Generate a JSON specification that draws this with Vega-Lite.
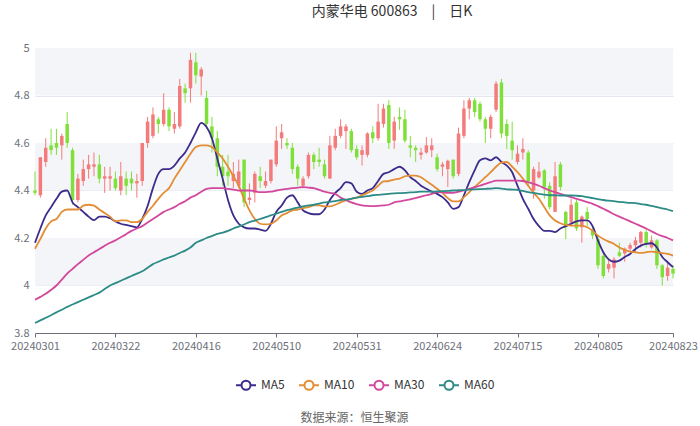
{
  "$schema": "https://vega.github.io/schema/vega-lite/v6.json",
  "width": 638,
  "height": 285,
  "autosize": {"type": "none"},
  "padding": {"left": 35, "top": 48, "right": 27, "bottom": 93},
  "background": "#ffffff",
  "title": {"text": "内蒙华电 600863　|　日K", "anchor": "middle", "dx": 38, "offset": 12, "baseline": "alphabetic", "fontSize": 14, "fontWeight": "normal", "color": "#333333", "font": "Noto Sans CJK SC"},
  "datasets": {
    "bands": [{"y0": 4.8, "y1": 5.0}, {"y0": 4.4, "y1": 4.6}, {"y0": 4.0, "y1": 4.2}],
    "k": [
      {"d":"20240301","o":4.40,"h":4.48,"l":4.38,"c":4.39,"MA5":4.18,"MA10":4.155,"MA30":3.94,"MA60":3.842},
      {"d":"20240304","o":4.38,"h":4.54,"l":4.37,"c":4.54,"MA5":4.24,"MA10":4.196,"MA30":3.952,"MA60":3.853},
      {"d":"20240305","o":4.52,"h":4.62,"l":4.50,"c":4.58,"MA5":4.295,"MA10":4.24,"MA30":3.965,"MA60":3.864},
      {"d":"20240306","o":4.59,"h":4.66,"l":4.55,"c":4.57,"MA5":4.33,"MA10":4.27,"MA30":3.982,"MA60":3.875},
      {"d":"20240307","o":4.60,"h":4.66,"l":4.55,"c":4.58,"MA5":4.365,"MA10":4.28,"MA30":4.00,"MA60":3.887},
      {"d":"20240308","o":4.59,"h":4.64,"l":4.53,"c":4.63,"MA5":4.395,"MA10":4.31,"MA30":4.025,"MA60":3.898},
      {"d":"20240311","o":4.68,"h":4.73,"l":4.58,"c":4.60,"MA5":4.40,"MA10":4.32,"MA30":4.05,"MA60":3.91},
      {"d":"20240312","o":4.57,"h":4.58,"l":4.34,"c":4.36,"MA5":4.35,"MA10":4.32,"MA30":4.07,"MA60":3.92},
      {"d":"20240313","o":4.36,"h":4.47,"l":4.35,"c":4.45,"MA5":4.33,"MA10":4.32,"MA30":4.09,"MA60":3.93},
      {"d":"20240314","o":4.44,"h":4.53,"l":4.42,"c":4.49,"MA5":4.31,"MA10":4.336,"MA30":4.108,"MA60":3.94},
      {"d":"20240315","o":4.49,"h":4.55,"l":4.45,"c":4.51,"MA5":4.29,"MA10":4.34,"MA30":4.126,"MA60":3.95},
      {"d":"20240318","o":4.50,"h":4.56,"l":4.46,"c":4.51,"MA5":4.275,"MA10":4.336,"MA30":4.14,"MA60":3.96},
      {"d":"20240319","o":4.51,"h":4.55,"l":4.43,"c":4.45,"MA5":4.29,"MA10":4.32,"MA30":4.154,"MA60":3.97},
      {"d":"20240320","o":4.45,"h":4.50,"l":4.39,"c":4.46,"MA5":4.29,"MA10":4.305,"MA30":4.167,"MA60":3.985},
      {"d":"20240321","o":4.45,"h":4.50,"l":4.40,"c":4.46,"MA5":4.283,"MA10":4.29,"MA30":4.18,"MA60":4.0},
      {"d":"20240322","o":4.45,"h":4.48,"l":4.40,"c":4.41,"MA5":4.27,"MA10":4.27,"MA30":4.19,"MA60":4.01},
      {"d":"20240325","o":4.40,"h":4.52,"l":4.38,"c":4.46,"MA5":4.26,"MA10":4.274,"MA30":4.203,"MA60":4.02},
      {"d":"20240326","o":4.45,"h":4.48,"l":4.38,"c":4.42,"MA5":4.255,"MA10":4.274,"MA30":4.216,"MA60":4.03},
      {"d":"20240327","o":4.45,"h":4.48,"l":4.40,"c":4.43,"MA5":4.25,"MA10":4.267,"MA30":4.23,"MA60":4.04},
      {"d":"20240328","o":4.43,"h":4.47,"l":4.37,"c":4.44,"MA5":4.245,"MA10":4.267,"MA30":4.24,"MA60":4.05},
      {"d":"20240329","o":4.44,"h":4.60,"l":4.42,"c":4.60,"MA5":4.28,"MA10":4.28,"MA30":4.25,"MA60":4.06},
      {"d":"20240401","o":4.60,"h":4.71,"l":4.58,"c":4.69,"MA5":4.335,"MA10":4.31,"MA30":4.265,"MA60":4.075},
      {"d":"20240402","o":4.63,"h":4.75,"l":4.62,"c":4.72,"MA5":4.41,"MA10":4.336,"MA30":4.28,"MA60":4.09},
      {"d":"20240403","o":4.70,"h":4.71,"l":4.64,"c":4.68,"MA5":4.47,"MA10":4.365,"MA30":4.295,"MA60":4.10},
      {"d":"20240408","o":4.68,"h":4.81,"l":4.67,"c":4.74,"MA5":4.49,"MA10":4.39,"MA30":4.31,"MA60":4.11},
      {"d":"20240409","o":4.74,"h":4.75,"l":4.65,"c":4.67,"MA5":4.49,"MA10":4.41,"MA30":4.32,"MA60":4.118},
      {"d":"20240410","o":4.66,"h":4.73,"l":4.64,"c":4.68,"MA5":4.505,"MA10":4.45,"MA30":4.33,"MA60":4.126},
      {"d":"20240411","o":4.67,"h":4.87,"l":4.66,"c":4.84,"MA5":4.535,"MA10":4.485,"MA30":4.344,"MA60":4.137},
      {"d":"20240412","o":4.83,"h":4.85,"l":4.77,"c":4.81,"MA5":4.56,"MA10":4.52,"MA30":4.355,"MA60":4.147},
      {"d":"20240415","o":4.83,"h":4.98,"l":4.77,"c":4.95,"MA5":4.60,"MA10":4.555,"MA30":4.37,"MA60":4.16},
      {"d":"20240416","o":4.94,"h":4.98,"l":4.85,"c":4.885,"MA5":4.645,"MA10":4.583,"MA30":4.38,"MA60":4.18},
      {"d":"20240417","o":4.88,"h":4.92,"l":4.80,"c":4.91,"MA5":4.685,"MA10":4.59,"MA30":4.395,"MA60":4.19},
      {"d":"20240418","o":4.79,"h":4.82,"l":4.66,"c":4.68,"MA5":4.667,"MA10":4.59,"MA30":4.407,"MA60":4.20},
      {"d":"20240419","o":4.67,"h":4.71,"l":4.56,"c":4.62,"MA5":4.62,"MA10":4.583,"MA30":4.41,"MA60":4.208},
      {"d":"20240422","o":4.62,"h":4.65,"l":4.46,"c":4.50,"MA5":4.535,"MA10":4.56,"MA30":4.41,"MA60":4.217},
      {"d":"20240423","o":4.50,"h":4.55,"l":4.42,"c":4.46,"MA5":4.45,"MA10":4.535,"MA30":4.41,"MA60":4.223},
      {"d":"20240424","o":4.48,"h":4.55,"l":4.42,"c":4.46,"MA5":4.36,"MA10":4.50,"MA30":4.407,"MA60":4.23},
      {"d":"20240425","o":4.44,"h":4.52,"l":4.41,"c":4.47,"MA5":4.295,"MA10":4.46,"MA30":4.404,"MA60":4.24},
      {"d":"20240426","o":4.42,"h":4.53,"l":4.41,"c":4.48,"MA5":4.26,"MA10":4.42,"MA30":4.40,"MA60":4.248},
      {"d":"20240429","o":4.53,"h":4.53,"l":4.33,"c":4.35,"MA5":4.245,"MA10":4.365,"MA30":4.40,"MA60":4.257},
      {"d":"20240430","o":4.36,"h":4.43,"l":4.34,"c":4.37,"MA5":4.24,"MA10":4.316,"MA30":4.40,"MA60":4.267},
      {"d":"20240506","o":4.39,"h":4.48,"l":4.35,"c":4.47,"MA5":4.24,"MA10":4.28,"MA30":4.397,"MA60":4.273},
      {"d":"20240507","o":4.46,"h":4.50,"l":4.41,"c":4.44,"MA5":4.235,"MA10":4.26,"MA30":4.393,"MA60":4.28},
      {"d":"20240508","o":4.42,"h":4.48,"l":4.41,"c":4.44,"MA5":4.23,"MA10":4.257,"MA30":4.393,"MA60":4.288},
      {"d":"20240509","o":4.44,"h":4.53,"l":4.43,"c":4.53,"MA5":4.26,"MA10":4.26,"MA30":4.395,"MA60":4.295},
      {"d":"20240510","o":4.51,"h":4.67,"l":4.50,"c":4.61,"MA5":4.31,"MA10":4.274,"MA30":4.40,"MA60":4.303},
      {"d":"20240513","o":4.62,"h":4.68,"l":4.575,"c":4.645,"MA5":4.337,"MA10":4.295,"MA30":4.404,"MA60":4.31},
      {"d":"20240514","o":4.60,"h":4.62,"l":4.575,"c":4.59,"MA5":4.37,"MA10":4.305,"MA30":4.407,"MA60":4.317},
      {"d":"20240515","o":4.58,"h":4.60,"l":4.47,"c":4.49,"MA5":4.38,"MA10":4.316,"MA30":4.41,"MA60":4.323},
      {"d":"20240516","o":4.50,"h":4.51,"l":4.42,"c":4.45,"MA5":4.35,"MA10":4.32,"MA30":4.412,"MA60":4.328},
      {"d":"20240517","o":4.42,"h":4.46,"l":4.41,"c":4.45,"MA5":4.316,"MA10":4.326,"MA30":4.414,"MA60":4.333},
      {"d":"20240520","o":4.46,"h":4.56,"l":4.45,"c":4.55,"MA5":4.305,"MA10":4.33,"MA30":4.412,"MA60":4.337},
      {"d":"20240521","o":4.55,"h":4.56,"l":4.49,"c":4.52,"MA5":4.30,"MA10":4.337,"MA30":4.41,"MA60":4.34},
      {"d":"20240522","o":4.53,"h":4.58,"l":4.50,"c":4.52,"MA5":4.30,"MA10":4.337,"MA30":4.403,"MA60":4.345},
      {"d":"20240523","o":4.51,"h":4.53,"l":4.45,"c":4.46,"MA5":4.32,"MA10":4.333,"MA30":4.395,"MA60":4.35},
      {"d":"20240524","o":4.45,"h":4.63,"l":4.45,"c":4.59,"MA5":4.36,"MA10":4.333,"MA30":4.39,"MA60":4.352},
      {"d":"20240527","o":4.58,"h":4.66,"l":4.57,"c":4.63,"MA5":4.39,"MA10":4.34,"MA30":4.386,"MA60":4.355},
      {"d":"20240528","o":4.63,"h":4.70,"l":4.62,"c":4.67,"MA5":4.41,"MA10":4.35,"MA30":4.37,"MA60":4.36},
      {"d":"20240529","o":4.65,"h":4.68,"l":4.575,"c":4.67,"MA5":4.435,"MA10":4.358,"MA30":4.36,"MA60":4.362},
      {"d":"20240530","o":4.65,"h":4.66,"l":4.56,"c":4.57,"MA5":4.43,"MA10":4.365,"MA30":4.35,"MA60":4.365},
      {"d":"20240531","o":4.575,"h":4.59,"l":4.53,"c":4.54,"MA5":4.395,"MA10":4.37,"MA30":4.343,"MA60":4.37},
      {"d":"20240603","o":4.55,"h":4.59,"l":4.505,"c":4.57,"MA5":4.386,"MA10":4.38,"MA30":4.337,"MA60":4.373},
      {"d":"20240604","o":4.55,"h":4.645,"l":4.54,"c":4.64,"MA5":4.40,"MA10":4.39,"MA30":4.335,"MA60":4.376},
      {"d":"20240605","o":4.645,"h":4.67,"l":4.60,"c":4.62,"MA5":4.41,"MA10":4.40,"MA30":4.334,"MA60":4.38},
      {"d":"20240606","o":4.62,"h":4.765,"l":4.61,"c":4.69,"MA5":4.44,"MA10":4.42,"MA30":4.335,"MA60":4.382},
      {"d":"20240607","o":4.68,"h":4.765,"l":4.665,"c":4.745,"MA5":4.47,"MA10":4.438,"MA30":4.337,"MA60":4.384},
      {"d":"20240611","o":4.76,"h":4.78,"l":4.575,"c":4.60,"MA5":4.477,"MA10":4.44,"MA30":4.34,"MA60":4.386},
      {"d":"20240612","o":4.61,"h":4.71,"l":4.575,"c":4.69,"MA5":4.49,"MA10":4.446,"MA30":4.35,"MA60":4.388},
      {"d":"20240613","o":4.71,"h":4.75,"l":4.655,"c":4.70,"MA5":4.50,"MA10":4.45,"MA30":4.354,"MA60":4.389},
      {"d":"20240614","o":4.70,"h":4.74,"l":4.60,"c":4.61,"MA5":4.485,"MA10":4.46,"MA30":4.358,"MA60":4.39},
      {"d":"20240617","o":4.59,"h":4.63,"l":4.54,"c":4.58,"MA5":4.456,"MA10":4.463,"MA30":4.363,"MA60":4.392},
      {"d":"20240618","o":4.58,"h":4.59,"l":4.52,"c":4.57,"MA5":4.44,"MA10":4.463,"MA30":4.368,"MA60":4.393},
      {"d":"20240619","o":4.55,"h":4.58,"l":4.53,"c":4.56,"MA5":4.42,"MA10":4.456,"MA30":4.374,"MA60":4.395},
      {"d":"20240620","o":4.56,"h":4.625,"l":4.555,"c":4.59,"MA5":4.407,"MA10":4.44,"MA30":4.38,"MA60":4.395},
      {"d":"20240621","o":4.57,"h":4.62,"l":4.54,"c":4.59,"MA5":4.395,"MA10":4.424,"MA30":4.386,"MA60":4.395},
      {"d":"20240624","o":4.54,"h":4.555,"l":4.48,"c":4.49,"MA5":4.386,"MA10":4.407,"MA30":4.393,"MA60":4.396},
      {"d":"20240625","o":4.50,"h":4.52,"l":4.46,"c":4.51,"MA5":4.372,"MA10":4.39,"MA30":4.392,"MA60":4.397},
      {"d":"20240626","o":4.49,"h":4.53,"l":4.415,"c":4.525,"MA5":4.35,"MA10":4.368,"MA30":4.39,"MA60":4.398},
      {"d":"20240627","o":4.53,"h":4.53,"l":4.45,"c":4.46,"MA5":4.323,"MA10":4.354,"MA30":4.39,"MA60":4.40},
      {"d":"20240628","o":4.47,"h":4.665,"l":4.46,"c":4.64,"MA5":4.33,"MA10":4.354,"MA30":4.395,"MA60":4.401},
      {"d":"20240701","o":4.63,"h":4.78,"l":4.62,"c":4.745,"MA5":4.38,"MA10":4.372,"MA30":4.40,"MA60":4.402},
      {"d":"20240702","o":4.745,"h":4.79,"l":4.70,"c":4.78,"MA5":4.435,"MA10":4.393,"MA30":4.407,"MA60":4.404},
      {"d":"20240703","o":4.78,"h":4.79,"l":4.71,"c":4.73,"MA5":4.485,"MA10":4.414,"MA30":4.414,"MA60":4.405},
      {"d":"20240704","o":4.765,"h":4.775,"l":4.69,"c":4.70,"MA5":4.527,"MA10":4.435,"MA30":4.42,"MA60":4.406},
      {"d":"20240705","o":4.70,"h":4.71,"l":4.60,"c":4.66,"MA5":4.535,"MA10":4.456,"MA30":4.428,"MA60":4.407},
      {"d":"20240708","o":4.66,"h":4.72,"l":4.62,"c":4.71,"MA5":4.527,"MA10":4.477,"MA30":4.435,"MA60":4.408},
      {"d":"20240709","o":4.74,"h":4.86,"l":4.73,"c":4.85,"MA5":4.54,"MA10":4.50,"MA30":4.442,"MA60":4.41},
      {"d":"20240710","o":4.855,"h":4.87,"l":4.62,"c":4.64,"MA5":4.52,"MA10":4.517,"MA30":4.442,"MA60":4.408},
      {"d":"20240711","o":4.68,"h":4.70,"l":4.575,"c":4.63,"MA5":4.505,"MA10":4.52,"MA30":4.442,"MA60":4.405},
      {"d":"20240712","o":4.61,"h":4.69,"l":4.53,"c":4.57,"MA5":4.477,"MA10":4.50,"MA30":4.442,"MA60":4.404},
      {"d":"20240715","o":4.52,"h":4.59,"l":4.51,"c":4.555,"MA5":4.42,"MA10":4.477,"MA30":4.442,"MA60":4.403},
      {"d":"20240716","o":4.56,"h":4.62,"l":4.53,"c":4.575,"MA5":4.365,"MA10":4.45,"MA30":4.44,"MA60":4.398},
      {"d":"20240717","o":4.56,"h":4.57,"l":4.42,"c":4.44,"MA5":4.323,"MA10":4.42,"MA30":4.435,"MA60":4.393},
      {"d":"20240718","o":4.40,"h":4.50,"l":4.365,"c":4.49,"MA5":4.28,"MA10":4.39,"MA30":4.428,"MA60":4.39},
      {"d":"20240719","o":4.455,"h":4.52,"l":4.45,"c":4.48,"MA5":4.25,"MA10":4.365,"MA30":4.42,"MA60":4.386},
      {"d":"20240722","o":4.485,"h":4.49,"l":4.365,"c":4.415,"MA5":4.23,"MA10":4.33,"MA30":4.41,"MA60":4.383},
      {"d":"20240723","o":4.42,"h":4.435,"l":4.32,"c":4.33,"MA5":4.23,"MA10":4.295,"MA30":4.40,"MA60":4.38},
      {"d":"20240724","o":4.31,"h":4.52,"l":4.31,"c":4.46,"MA5":4.225,"MA10":4.274,"MA30":4.393,"MA60":4.38},
      {"d":"20240725","o":4.51,"h":4.52,"l":4.40,"c":4.415,"MA5":4.24,"MA10":4.262,"MA30":4.386,"MA60":4.379},
      {"d":"20240726","o":4.31,"h":4.315,"l":4.195,"c":4.245,"MA5":4.25,"MA10":4.255,"MA30":4.379,"MA60":4.379},
      {"d":"20240729","o":4.265,"h":4.365,"l":4.25,"c":4.34,"MA5":4.26,"MA10":4.252,"MA30":4.372,"MA60":4.379},
      {"d":"20240730","o":4.35,"h":4.36,"l":4.23,"c":4.24,"MA5":4.27,"MA10":4.252,"MA30":4.365,"MA60":4.378},
      {"d":"20240731","o":4.245,"h":4.295,"l":4.18,"c":4.29,"MA5":4.274,"MA10":4.252,"MA30":4.358,"MA60":4.376},
      {"d":"20240801","o":4.31,"h":4.33,"l":4.25,"c":4.28,"MA5":4.274,"MA10":4.245,"MA30":4.351,"MA60":4.372},
      {"d":"20240802","o":4.23,"h":4.245,"l":4.195,"c":4.21,"MA5":4.25,"MA10":4.23,"MA30":4.344,"MA60":4.368},
      {"d":"20240805","o":4.195,"h":4.21,"l":4.07,"c":4.085,"MA5":4.19,"MA10":4.21,"MA30":4.334,"MA60":4.364},
      {"d":"20240806","o":4.125,"h":4.14,"l":4.03,"c":4.04,"MA5":4.14,"MA10":4.196,"MA30":4.323,"MA60":4.36},
      {"d":"20240807","o":4.07,"h":4.11,"l":4.055,"c":4.09,"MA5":4.11,"MA10":4.185,"MA30":4.312,"MA60":4.357},
      {"d":"20240808","o":4.075,"h":4.12,"l":4.03,"c":4.11,"MA5":4.10,"MA10":4.175,"MA30":4.30,"MA60":4.355},
      {"d":"20240809","o":4.14,"h":4.18,"l":4.12,"c":4.125,"MA5":4.105,"MA10":4.16,"MA30":4.29,"MA60":4.352},
      {"d":"20240812","o":4.135,"h":4.16,"l":4.10,"c":4.155,"MA5":4.12,"MA10":4.15,"MA30":4.28,"MA60":4.35},
      {"d":"20240813","o":4.155,"h":4.18,"l":4.14,"c":4.17,"MA5":4.133,"MA10":4.143,"MA30":4.27,"MA60":4.348},
      {"d":"20240814","o":4.17,"h":4.205,"l":4.14,"c":4.19,"MA5":4.154,"MA10":4.14,"MA30":4.26,"MA60":4.347},
      {"d":"20240815","o":4.18,"h":4.23,"l":4.16,"c":4.225,"MA5":4.168,"MA10":4.137,"MA30":4.25,"MA60":4.343},
      {"d":"20240816","o":4.225,"h":4.24,"l":4.16,"c":4.175,"MA5":4.175,"MA10":4.14,"MA30":4.24,"MA60":4.34},
      {"d":"20240819","o":4.16,"h":4.21,"l":4.155,"c":4.19,"MA5":4.178,"MA10":4.143,"MA30":4.228,"MA60":4.335},
      {"d":"20240820","o":4.19,"h":4.195,"l":4.07,"c":4.085,"MA5":4.16,"MA10":4.14,"MA30":4.217,"MA60":4.33},
      {"d":"20240821","o":4.085,"h":4.09,"l":4.00,"c":4.035,"MA5":4.12,"MA10":4.136,"MA30":4.208,"MA60":4.325},
      {"d":"20240822","o":4.04,"h":4.10,"l":4.02,"c":4.075,"MA5":4.098,"MA10":4.133,"MA30":4.20,"MA60":4.32},
      {"d":"20240823","o":4.07,"h":4.085,"l":4.03,"c":4.05,"MA5":4.077,"MA10":4.126,"MA30":4.19,"MA60":4.313}
    ]
  },
  "layer": [
    {
      "data": {"name": "bands"},
      "mark": {"type": "rect", "color": "#f4f5f9"},
      "encoding": {
        "y": {"field": "y0", "type": "quantitative", "scale": {"domain": [3.8, 5], "nice": false, "zero": false}, "axis": {"title": null, "values": [3.8, 4, 4.2, 4.4, 4.6, 4.8, 5], "format": "~g", "grid": true, "gridColor": "#e3e6ee", "domain": false, "ticks": false, "labelColor": "#6e7079", "labelFontSize": 11, "labelPadding": 6, "labelFont": "Noto Sans CJK SC"}},
        "y2": {"field": "y1"}
      }
    },
    {
      "data": {"name": "k"},
      "mark": {"type": "rule", "strokeWidth": 1},
      "encoding": {
        "x": {"field": "d", "type": "ordinal", "scale": {"type": "point", "padding": 0}, "axis": {"title": "数据来源：恒生聚源", "titleFontSize": 12, "titleFontWeight": "normal", "titleColor": "#666666", "titleFont": "Noto Sans CJK SC", "titleY": 88, "titleBaseline": "alphabetic", "values": ["20240301","20240322","20240416","20240510","20240531","20240624","20240715","20240805","20240823"], "labelAngle": 0, "labelColor": "#6e7079", "labelFontSize": 11, "labelFont": "Noto Sans CJK SC", "domainColor": "#6e7079", "tickColor": "#6e7079", "tickSize": 4, "labelPadding": 3, "grid": false}},
        "y": {"field": "l", "type": "quantitative"},
        "y2": {"field": "h"},
        "color": {"condition": {"test": "datum.c >= datum.o", "value": "#f47b7b"}, "value": "#80e03a"}
      }
    },
    {
      "data": {"name": "k"},
      "mark": {"type": "bar", "size": 3.5},
      "encoding": {
        "x": {"field": "d", "type": "ordinal"},
        "y": {"field": "o", "type": "quantitative"},
        "y2": {"field": "c"},
        "color": {"condition": {"test": "datum.c >= datum.o", "value": "#f47b7b"}, "value": "#80e03a"}
      }
    },
    {
      "data": {"name": "k"},
      "transform": [{"fold": ["MA5", "MA10", "MA30", "MA60"], "as": ["s", "v"]}],
      "mark": {"type": "line", "strokeWidth": 1.8, "interpolate": "monotone"},
      "encoding": {
        "x": {"field": "d", "type": "ordinal"},
        "y": {"field": "v", "type": "quantitative"},
        "color": {"field": "s", "type": "nominal", "scale": {"domain": ["MA5", "MA10", "MA30", "MA60"], "range": ["#3d2b8c", "#e38d35", "#d2489c", "#2d8b87"]},
          "legend": {"orient": "none", "legendX": 200, "legendY": 326, "direction": "horizontal", "title": null, "symbolType": "M-1,0L-0.45,0M0.45,0L1,0M-0.45,0A0.45,0.45 0 1,1 0.45,0A0.45,0.45 0 1,1 -0.45,0Z", "symbolSize": 400, "symbolStrokeWidth": 2, "symbolFillColor": "#ffffff", "labelFontSize": 12, "labelColor": "#333333", "labelFont": "Noto Sans CJK SC", "columnPadding": 10, "labelOffset": 4}}
      }
    }
  ],
  "config": {"view": {"stroke": null}}
}
